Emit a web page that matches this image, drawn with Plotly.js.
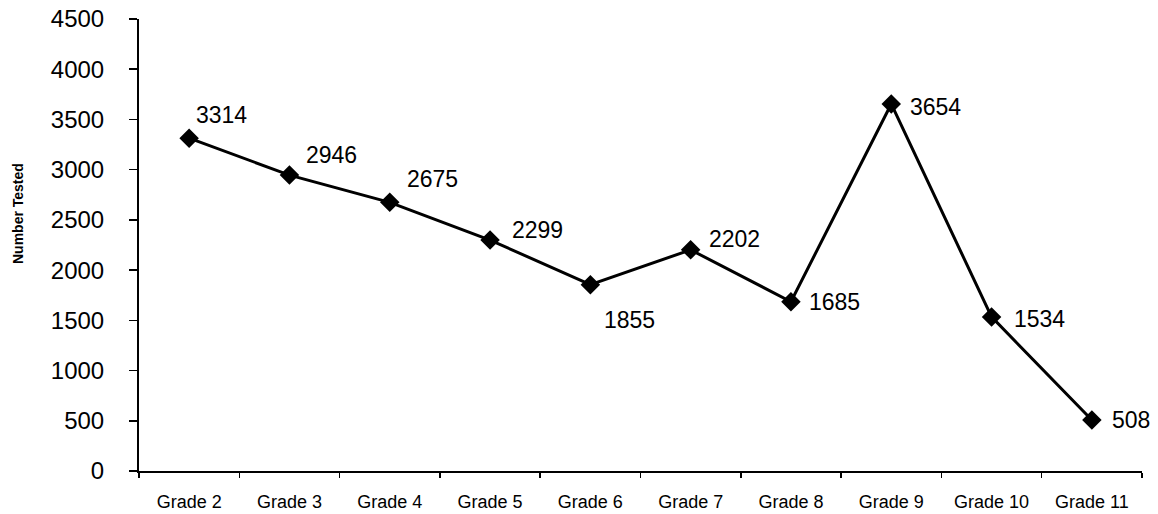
<!DOCTYPE html>
<html>
<head>
<meta charset="utf-8">
<script src="https://cdn.plot.ly/plotly-3.0.1.min.js"></script>
<style>
  html, body { margin: 0; padding: 0; background: #fff; }
  #chart { width: 1158px; height: 514px; }
</style>
</head>
<body>
<div id="chart"></div>
<script>
const grades = ["Grade 2", "Grade 3", "Grade 4", "Grade 5", "Grade 6", "Grade 7", "Grade 8", "Grade 9", "Grade 10", "Grade 11"];
const numberTested = [3314, 2946, 2675, 2299, 1855, 2202, 1685, 3654, 1534, 508];
const yTickValues = [0, 500, 1000, 1500, 2000, 2500, 3000, 3500, 4000, 4500];
const yAxisTitle = "Number Tested";

// label offsets (px) relative to each point
const labelDx = [5, 15, 15, 20, 12, 16, 16, 17, 20, 18];
const labelDy = [23, 20, 23, 10, -35, 11, 0, -3, -2, 0];

const fontFam = "'Liberation Sans', Arial, sans-serif";

const trace = {
  type: "scatter",
  mode: "lines+markers",
  x: grades,
  y: numberTested,
  line: { color: "#000", width: 3 },
  marker: { symbol: "diamond", size: 15, color: "#000" },
  hoverinfo: "x+y",
  showlegend: false
};

const annotations = grades.map((g, i) => ({
  x: g, y: numberTested[i], xref: "x", yref: "y",
  text: String(numberTested[i]),
  showarrow: false,
  xanchor: "left", yanchor: "middle",
  xshift: labelDx[i], yshift: labelDy[i],
  font: { family: fontFam, size: 23, color: "#000" }
}));

annotations.push({
  xref: "paper", yref: "paper",
  x: -0.12, y: 0.57,
  xanchor: "center", yanchor: "middle",
  text: yAxisTitle, textangle: -90, showarrow: false,
  font: { family: fontFam, size: 14, color: "#000", weight: "bold" }
});

const layout = {
  width: 1158, height: 514,
  margin: { l: 139, r: 16, t: 19, b: 43 },
  paper_bgcolor: "#fff", plot_bgcolor: "#fff",
  font: { family: fontFam, color: "#000" },
  xaxis: {
    type: "category",
    showgrid: false, zeroline: false,
    showline: true, linecolor: "#000", linewidth: 2,
    ticks: "outside", tickson: "boundaries", ticklen: 5, tickwidth: 1.5, tickcolor: "#000",
    tickfont: { family: fontFam, size: 18, color: "#000" },
    ticklabelstandoff: 13,
    range: [-0.5, 9.5]
  },
  yaxis: {
    range: [0, 4500],
    tickvals: yTickValues,
    ticktext: yTickValues.map(String),
    showgrid: false, zeroline: false,
    showline: true, linecolor: "#000", linewidth: 2,
    ticks: "outside", ticklen: 8, tickwidth: 1.5, tickcolor: "#000",
    tickfont: { family: fontFam, size: 24, color: "#000" },
    ticklabelstandoff: 20
  },
  annotations: annotations
};

Plotly.newPlot("chart", [trace], layout, { displayModeBar: false, staticPlot: true });
</script>
</body>
</html>
